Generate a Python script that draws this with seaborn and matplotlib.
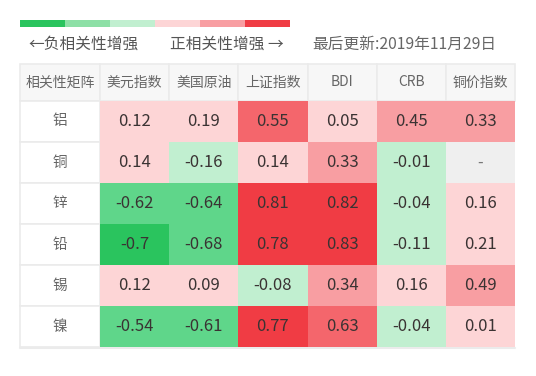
import numpy as np
import pandas as pd
import matplotlib
matplotlib.use('Agg')
from matplotlib import pyplot as plt
from matplotlib.colors import ListedColormap
from matplotlib.patches import Rectangle
import seaborn as sns

metals = ['铝', '铜', '锌', '铅', '锡', '镍']
factors = ['美元指数', '美国原油', '上证指数', 'BDI', 'CRB', '铜价指数']
al = [0.12, 0.19, 0.55, 0.05, 0.45, 0.33]
cu = [0.14, -0.16, 0.14, 0.33, -0.01, np.nan]
zn = [-0.62, -0.64, 0.81, 0.82, -0.04, 0.16]
pb = [-0.7, -0.68, 0.78, 0.83, -0.11, 0.21]
sn_ = [0.12, 0.09, -0.08, 0.34, 0.16, 0.49]
ni = [-0.54, -0.61, 0.77, 0.63, -0.04, 0.01]
update_text = '最后更新:2019年11月29日'

legend_colors = ['#2ac45e', '#8de0a6', '#c1efd0', '#fdd5d6', '#f89ea2', '#f03c44']
cell_colors = ['#2ac45e', '#5fd68a', '#8de0a6', '#c1efd0',
               '#fdd5d6', '#f89ea2', '#f4666c', '#f03c44']
bins = [-1.01, -0.7, -0.5, -0.3, 0, 0.3, 0.5, 0.7, 1.01]

sns.set_theme(style='white')
plt.rcParams['font.family'] = ['Noto Sans CJK SC', 'DejaVu Sans']

df = pd.DataFrame([al, cu, zn, pb, sn_, ni], index=metals, columns=factors)
levels = df.apply(lambda c: pd.cut(c, bins, labels=False, right=True)).astype(float)
annot = df.map(lambda v: '' if pd.isna(v) else f'{v:g}')

fig = plt.figure(figsize=(5.36, 3.76), dpi=100)
bg = fig.add_axes([0, 0, 1, 1])
bg.set_xlim(0, 536)
bg.set_ylim(376, 0)
bg.axis('off')

# legend strip
for i, c in enumerate(legend_colors):
    bg.add_patch(Rectangle((20 + 45 * i, 20), 45, 7, color=c, lw=0))
bg.text(28, 44, '←负相关性增强', va='center', fontsize=11.3, color='#555555')
bg.text(170, 44, '正相关性增强 →', va='center', fontsize=11.3, color='#555555')
bg.text(312, 44, update_text, va='center', fontsize=11.3, color='#666666')

# table frame
x0, xl, xr = 20, 100, 515
yh, yt, yb = 64, 101, 347
cw = (xr - xl) / len(factors)
rh = (yb - yt) / len(metals)
edge = '#ebebeb'
bg.add_patch(Rectangle((x0, yh), xl - x0, yt - yh, fc='#f7f7f7', ec=edge, lw=1.2))
bg.text((x0 + xl) / 2, (yh + yt) / 2, '相关性矩阵', ha='center', va='center',
        fontsize=10, color='#666666')
for j, name in enumerate(factors):
    bg.add_patch(Rectangle((xl + cw * j, yh), cw, yt - yh, fc='#f7f7f7', ec=edge, lw=1.2))
    bg.text(xl + cw * (j + 0.5), (yh + yt) / 2, name, ha='center', va='center',
            fontsize=10, color='#666666')
for i, name in enumerate(metals):
    bg.add_patch(Rectangle((x0, yt + rh * i), xl - x0, rh, fc='white', ec=edge, lw=1.2))
    bg.text((x0 + xl) / 2, yt + rh * (i + 0.5), name, ha='center', va='center',
            fontsize=10.5, color='#666666')
bg.plot([x0, xr], [yb + 0.5, yb + 0.5], color=edge, lw=1.5)

# heatmap cells
ax = fig.add_axes([xl / 536, 1 - yb / 376, (xr - xl) / 536, (yb - yt) / 376])
ax.set_facecolor('#efefef')
sns.heatmap(levels, ax=ax, cmap=ListedColormap(cell_colors), vmin=-0.5, vmax=7.5,
            cbar=False, annot=annot, fmt='', linewidths=0,
            annot_kws={'fontsize': 12, 'color': '#3a3333'},
            xticklabels=False, yticklabels=False)
for i, j in zip(*np.where(df.isna().values)):
    ax.text(j + 0.5, i + 0.5, '-', ha='center', va='center', fontsize=11.5, color='#777777')
ax.set_xlabel('')
ax.set_ylabel('')

fig.savefig('out.png', dpi=100)
